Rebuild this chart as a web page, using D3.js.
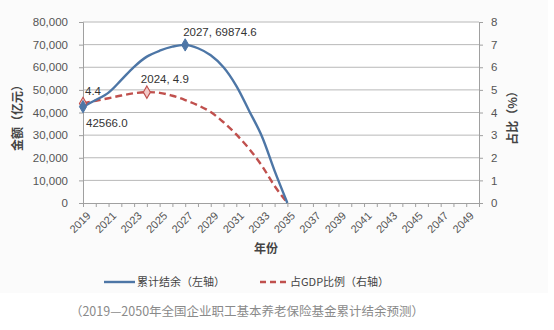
<!DOCTYPE html>
<html>
<head>
<meta charset="utf-8">
<script src="https://cdn.jsdelivr.net/npm/d3@7"></script>
<style>
  html, body { margin: 0; padding: 0; background: #ffffff; }
  svg { display: block; font-family: "Noto Sans CJK SC", "Noto Sans", sans-serif; }
</style>
</head>
<body>
<svg id="chart" width="554" height="330"></svg>
<script>
// Years on the category axis (2019–2050)
const years = d3.range(2019, 2051);
const tickYears = d3.range(2019, 2051, 2);

// Cumulative balance, 100 million yuan (left axis), 2019–2035
const balanceYears = d3.range(2019, 2036);
const balance = [42566.0, 45500, 48800, 54400, 60200, 64700, 67300, 69100, 69874.6,
                 68400, 65300, 60000, 51800, 40800, 29500, 14200, 0];

// Share of GDP, % (right axis), 2019–2035
const gdpShare = [4.4, 4.52, 4.63, 4.75, 4.85, 4.9, 4.87, 4.74, 4.55,
                  4.32, 4.02, 3.57, 3.03, 2.4, 1.65, 0.75, 0];

const leftTicks = d3.range(0, 80001, 10000);
const rightTicks = d3.range(0, 9, 1);

const seriesNames = ["累计结余（左轴）", "占GDP比例（右轴）"];
const caption = "（2019—2050年全国企业职工基本养老保险基金累计结余预测）";

const blue = "#4d76a6";
const red = "#c0504d";
const textColor = "#555";

const svg = d3.select("#chart");

// chart panel
svg.append("rect").attr("x", 0).attr("y", 0).attr("width", 548).attr("height", 293)
  .attr("fill", "#fbfbfb");

const plot = { left: 83, right: 479, top: 22, bottom: 203 };

const x = d3.scalePoint().domain(years).range([plot.left, plot.right]);
const yL = d3.scaleLinear().domain([0, 80000]).range([plot.bottom, plot.top]);
const yR = d3.scaleLinear().domain([0, 8]).range([plot.bottom, plot.top]);

svg.append("rect")
  .attr("x", plot.left).attr("y", plot.top)
  .attr("width", plot.right - plot.left).attr("height", plot.bottom - plot.top)
  .attr("fill", "#ffffff");

// gridlines
svg.append("g")
  .selectAll("line")
  .data(leftTicks.slice(1))
  .join("line")
  .attr("x1", plot.left).attr("x2", plot.right)
  .attr("y1", d => yL(d)).attr("y2", d => yL(d))
  .attr("stroke", "#b8b8b8").attr("stroke-width", 1);

const numFont = "'Liberation Sans', Arial, sans-serif";

// left axis
const gL = svg.append("g").attr("transform", `translate(${plot.left},0)`)
  .call(d3.axisLeft(yL).tickValues(leftTicks).tickSize(4).tickPadding(11)
    .tickFormat(d3.format(",")));
gL.select(".domain").attr("stroke", "#a0a0a0");
gL.selectAll(".tick line").attr("stroke", "#a0a0a0");
gL.selectAll(".tick text").attr("fill", textColor).attr("font-size", 11.5)
  .attr("font-family", numFont);

// right axis
const gR = svg.append("g").attr("transform", `translate(${plot.right},0)`)
  .call(d3.axisRight(yR).tickValues(rightTicks).tickSize(4).tickPadding(8));
gR.select(".domain").attr("stroke", "#a0a0a0");
gR.selectAll(".tick line").attr("stroke", "#a0a0a0");
gR.selectAll(".tick text").attr("fill", textColor).attr("font-size", 11.5)
  .attr("font-family", numFont);

// bottom axis
const gX = svg.append("g").attr("transform", `translate(0,${plot.bottom})`)
  .call(d3.axisBottom(x).tickValues(years).tickSize(4).tickFormat(""));
gX.select(".domain").attr("stroke", "#a0a0a0");
gX.selectAll(".tick line").attr("stroke", "#a0a0a0");

svg.append("g")
  .selectAll("text")
  .data(tickYears)
  .join("text")
  .attr("transform", d => `translate(${x(d) + 3},${plot.bottom + 8}) rotate(-45)`)
  .attr("text-anchor", "end")
  .attr("dy", "0.7em")
  .attr("font-size", 11)
  .attr("font-family", numFont)
  .attr("fill", textColor)
  .text(d => d);

// axis titles
svg.append("text")
  .attr("transform", `translate(22,115) rotate(-90)`)
  .attr("text-anchor", "middle")
  .attr("font-size", 12).attr("font-weight", "bold").attr("fill", "#444")
  .text("金额（亿元）");

svg.append("text")
  .attr("transform", `translate(517,115) rotate(-90)`)
  .attr("text-anchor", "middle")
  .attr("font-size", 12).attr("font-weight", "bold").attr("fill", "#444")
  .text("占比（%）");

svg.append("text")
  .attr("x", 266).attr("y", 253)
  .attr("text-anchor", "middle")
  .attr("font-size", 12).attr("font-weight", "bold").attr("fill", "#444")
  .text("年份");

// series lines
const lineL = d3.line()
  .x((d, i) => x(balanceYears[i]))
  .y(d => yL(d))
  .curve(d3.curveCatmullRom.alpha(0.5));

const lineR = d3.line()
  .x((d, i) => x(balanceYears[i]))
  .y(d => yR(d))
  .curve(d3.curveCatmullRom.alpha(0.5));

svg.append("path").datum(gdpShare)
  .attr("d", lineR).attr("fill", "none")
  .attr("stroke", red).attr("stroke-width", 2.4)
  .attr("stroke-dasharray", "7,4");

svg.append("path").datum(balance)
  .attr("d", lineL).attr("fill", "none")
  .attr("stroke", blue).attr("stroke-width", 2.4);

// markers
const diamond = d3.symbol().type(d3.symbolDiamond).size(44);

const redMarks = [0, 5];
svg.append("g").selectAll("path")
  .data(redMarks)
  .join("path")
  .attr("d", diamond)
  .attr("transform", i => `translate(${x(balanceYears[i])},${yR(gdpShare[i])})`)
  .attr("fill", "#f2c9c8").attr("stroke", red).attr("stroke-width", 1.1);

const blueMarks = [0, 8];
svg.append("g").selectAll("path")
  .data(blueMarks)
  .join("path")
  .attr("d", diamond)
  .attr("transform", i => `translate(${x(balanceYears[i])},${yL(balance[i])})`)
  .attr("fill", blue).attr("stroke", blue);

// data labels
const labels = [
  { t: `${balanceYears[8]}, ${balance[8].toFixed(1)}`, x: x(balanceYears[8]) - 2, y: yL(balance[8]) - 9 },
  { t: `${balanceYears[5]}, ${gdpShare[5].toFixed(1)}`, x: x(balanceYears[5]) - 6, y: yR(gdpShare[5]) - 9 },
  { t: `${gdpShare[0].toFixed(1)}`, x: x(balanceYears[0]) + 2, y: yR(gdpShare[0]) - 8 },
  { t: `${balance[0].toFixed(1)}`, x: x(balanceYears[0]) + 3, y: yL(balance[0]) + 20 }
];
svg.append("g").selectAll("text")
  .data(labels)
  .join("text")
  .attr("x", d => d.x).attr("y", d => d.y)
  .attr("font-size", 11.5).attr("font-family", numFont)
  .attr("fill", "#333")
  .text(d => d.t);

// legend
const legend = svg.append("g");
legend.append("line")
  .attr("x1", 104).attr("x2", 135).attr("y1", 282).attr("y2", 282)
  .attr("stroke", blue).attr("stroke-width", 2.4);
legend.append("text")
  .attr("x", 137).attr("y", 286)
  .attr("font-size", 11).attr("fill", "#444")
  .text(seriesNames[0]);
legend.append("line")
  .attr("x1", 260).attr("x2", 288).attr("y1", 282).attr("y2", 282)
  .attr("stroke", red).attr("stroke-width", 2.4)
  .attr("stroke-dasharray", "6,4");
legend.append("text")
  .attr("x", 290).attr("y", 286)
  .attr("font-size", 11).attr("fill", "#444")
  .text(seriesNames[1]);

// caption
svg.append("text")
  .attr("x", 247).attr("y", 316)
  .attr("text-anchor", "middle")
  .attr("font-size", 12.5).attr("fill", "#8a8a8a")
  .text(caption);
</script>
</body>
</html>
